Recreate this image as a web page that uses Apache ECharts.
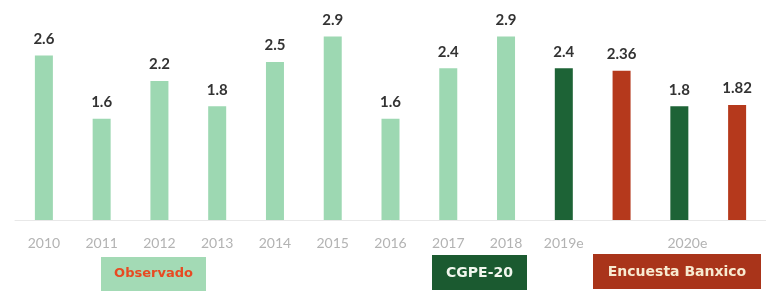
<!DOCTYPE html>
<html>
<head>
<meta charset="utf-8">
<script src="https://cdn.jsdelivr.net/npm/echarts@6/dist/echarts.min.js"></script>
<style>html,body{margin:0;padding:0;background:#fff;}#c{width:766px;height:292px;}</style>
</head>
<body>
<div id="c"></div>
<script>
const categories = ['2010','2011','2012','2013','2014','2015','2016','2017','2018','2019e','','2020e',''];
const values = [2.6, 1.6, 2.2, 1.8, 2.5, 2.9, 1.6, 2.4, 2.9, 2.4, 2.36, 1.8, 1.82];
const labels = ['2.6','1.6','2.2','1.8','2.5','2.9','1.6','2.4','2.9','2.4','2.36','1.8','1.82'];
const groups = ['obs','obs','obs','obs','obs','obs','obs','obs','obs','cgpe','banxico','cgpe','banxico'];
const groupNames = { obs: 'Observado', cgpe: 'CGPE-20', banxico: 'Encuesta Banxico' };

const colors = { obs: '#9dd8b2', cgpe: '#1d6336', banxico: '#b5391c' };
const font = 'Lato, "Open Sans", "DejaVu Sans", sans-serif';
const boxFont = '"DejaVu Sans", sans-serif';

const chart = echarts.init(document.getElementById('c'), null, { renderer: 'canvas' });
chart.setOption({
  animation: false,
  backgroundColor: '#ffffff',
  grid: { left: 15, top: 5, width: 763, bottom: 72, containLabel: false },
  xAxis: {
    type: 'category',
    data: categories,
    axisLine: { show: true, lineStyle: { color: '#e8e8e8', width: 1 } },
    axisTick: { show: false },
    axisLabel: {
      color: '#b3b3b3', fontSize: 14, fontFamily: font, margin: 16, interval: 0,
      formatter: v => v === '2020e' ? '{s|' + v + '}' : v,
      rich: { s: { color: '#b3b3b3', fontSize: 14, fontFamily: font, padding: [0, 0, 0, 16] } }
    }
  },
  yAxis: { type: 'value', min: 0, max: 3.4, show: false, splitLine: { show: false } },
  series: [{
    type: 'bar',
    barWidth: 18,
    data: values.map((v, i) => ({
      value: v,
      itemStyle: { color: colors[groups[i]] },
      label: { formatter: labels[i] }
    })),
    label: {
      show: true, position: 'top', distance: 9,
      color: '#333333', fontSize: 15, fontWeight: 'bold', fontFamily: font
    }
  }],
  graphic: [
    { type: 'rect', shape: { x: 101, y: 257, width: 105, height: 34 }, style: { fill: '#a3dab5' } },
    { type: 'text', x: 153.5, y: 274, style: { text: groupNames.obs, fill: '#e84a22', font: 'bold 13px ' + boxFont, textAlign: 'center', textVerticalAlign: 'middle' } },
    { type: 'rect', shape: { x: 432, y: 255, width: 95, height: 35 }, style: { fill: '#1b5a30' } },
    { type: 'text', x: 479.5, y: 273, style: { text: groupNames.cgpe, fill: '#f2f7ee', font: 'bold 14px ' + boxFont, textAlign: 'center', textVerticalAlign: 'middle' } },
    { type: 'rect', shape: { x: 593, y: 254, width: 168, height: 35 }, style: { fill: '#a9341a' } },
    { type: 'text', x: 677, y: 272, style: { text: groupNames.banxico, fill: '#f8ead0', font: 'bold 14px ' + boxFont, textAlign: 'center', textVerticalAlign: 'middle' } }
  ]
});
</script>
</body>
</html>
